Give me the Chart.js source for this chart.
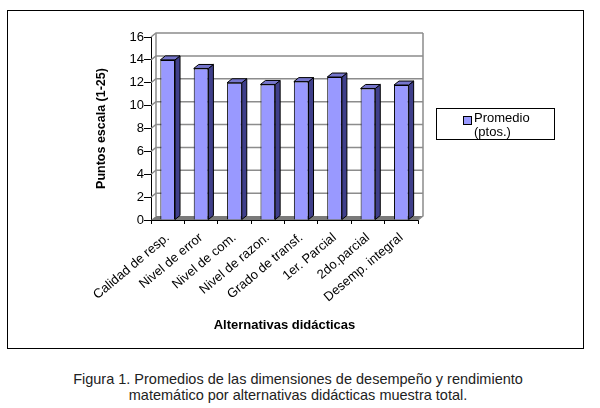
<!DOCTYPE html>
<html>
<head>
<meta charset="utf-8">
<script src="https://cdn.jsdelivr.net/npm/chart.js@4"></script>
<style>
  body { margin: 0; background: #fff; font-family: "Liberation Sans", Arial, sans-serif; }
  #frame { position: absolute; left: 7px; top: 10px; width: 575px; height: 337px; border: 1px solid #000; }
  #wrap { position: absolute; left: 0; top: 0; width: 575px; height: 337px; }
  #legend { position: absolute; left: 428px; top: 97px; width: 117px; height: 30px; border: 1px solid #000;
            font-size: 13px; line-height: 14px; color: #000; }
  #legend .sw { position: absolute; left: 26px; top: 7px; width: 7px; height: 7px; background: #9999ff; border: 1px solid #000; }
  #legend .t1 { position: absolute; left: 37px; top: 2px; }
  #legend .t2 { position: absolute; left: 37px; top: 16px; }
  #caption { position: absolute; left: 0; top: 371px; width: 596px; text-align: center; font-size: 14.5px; line-height: 16px; color: #222; }
</style>
</head>
<body>
<div id="frame">
  <div id="wrap"><canvas id="chart"></canvas></div>
  <div id="legend"><div class="sw"></div><div class="t1">Promedio</div><div class="t2">(ptos.)</div></div>
</div>
<div id="caption">Figura 1. Promedios de las dimensiones de desempeño y rendimiento<br>matemático por alternativas didácticas muestra total.</div>
<script>
/////////////////////////////////// DATA ///////////////////////////////////
const categories = ['Calidad de resp.', 'Nivel de error', 'Nivel de com.', 'Nivel de razon.',
                    'Grado de transf.', '1er. Parcial', '2do.parcial', 'Desemp. integral'];
const promedio = [14.0, 13.25, 12.0, 11.85, 12.1, 12.5, 11.5, 11.8];
const yTicks = [0, 2, 4, 6, 8, 10, 12, 14, 16];

const DX = 5, DY = 4; // depth of the 3d look

/////////////////////////////////// 3D PLUGIN ///////////////////////////////////
const wall3d = {
    id: 'wall3d',
    beforeDatasetsDraw(chart) {
        const ctx = chart.ctx, a = chart.chartArea, y = chart.scales.y;
        ctx.save();
        // floor
        ctx.fillStyle = '#7a7a7a';
        ctx.strokeStyle = '#000';
        ctx.lineWidth = 1;
        ctx.beginPath();
        ctx.moveTo(a.left, a.bottom);
        ctx.lineTo(a.left + DX, a.bottom - DY);
        ctx.lineTo(a.right + DX, a.bottom - DY);
        ctx.lineTo(a.right, a.bottom);
        ctx.closePath();
        ctx.fill();
        // back wall gridlines
        ctx.strokeStyle = '#8c8c8c';
        ctx.lineWidth = 1.5;
        yTicks.forEach(v => {
            if (v === 0) return;
            const py = y.getPixelForValue(v);
            ctx.beginPath();
            ctx.moveTo(a.left, py);
            ctx.lineTo(a.left + DX, py - DY);
            ctx.lineTo(a.right + DX, py - DY);
            ctx.stroke();
        });
        ctx.beginPath();
        ctx.moveTo(a.left + DX, a.top - DY);
        ctx.lineTo(a.left + DX, a.bottom - DY);
        ctx.moveTo(a.right + DX, a.top - DY);
        ctx.lineTo(a.right + DX, a.bottom - DY);
        ctx.lineTo(a.right, a.bottom);
        ctx.stroke();
        ctx.restore();
    },
    afterDatasetsDraw(chart) {
        const ctx = chart.ctx;
        ctx.save();
        ctx.strokeStyle = '#000';
        ctx.lineWidth = 1;
        chart.getDatasetMeta(0).data.forEach(bar => {
            const l = bar.x - bar.width / 2, r = bar.x + bar.width / 2;
            // side
            ctx.fillStyle = '#3f3f8a';
            ctx.beginPath();
            ctx.moveTo(r, bar.y);
            ctx.lineTo(r + DX, bar.y - DY);
            ctx.lineTo(r + DX, bar.base - DY);
            ctx.lineTo(r, bar.base);
            ctx.closePath();
            ctx.fill(); ctx.stroke();
            // top
            ctx.fillStyle = '#7676cc';
            ctx.beginPath();
            ctx.moveTo(l, bar.y);
            ctx.lineTo(l + DX, bar.y - DY);
            ctx.lineTo(r + DX, bar.y - DY);
            ctx.lineTo(r, bar.y);
            ctx.closePath();
            ctx.fill(); ctx.stroke();
        });
        ctx.restore();
    }
};

/////////////////////////////////// CHART ///////////////////////////////////
const family = '"Liberation Sans", Arial, sans-serif';

const chart = new Chart(document.getElementById('chart'), {
    type: 'bar',
    data: {
        labels: categories,
        datasets: [{
            label: 'Promedio (ptos.)',
            data: promedio,
            backgroundColor: '#9999ff',
            borderColor: '#000',
            borderWidth: 1,
            barPercentage: 0.44,
            categoryPercentage: 1
        }]
    },
    options: {
        responsive: true,
        maintainAspectRatio: false,
        animation: false,
        layout: { padding: { left: 86, top: 26, right: 165, bottom: 0 } },
        plugins: { legend: { display: false }, tooltip: { enabled: false } },
        scales: {
            x: {
                grid: { offset: true, drawOnChartArea: false, drawTicks: true, tickLength: 4, color: '#000' },
                border: { display: true, color: '#000' },
                ticks: { color: '#000', font: { family: family, size: 13 }, minRotation: 40, maxRotation: 40, padding: 6 },
                title: { display: true, text: 'Alternativas didácticas', color: '#000',
                         font: { family: family, size: 13, weight: 'bold' }, padding: { top: 4, bottom: 15 } },
                afterFit(s) { s.height = 128; }
            },
            y: {
                min: 0, max: 16,
                afterBuildTicks(s) { s.ticks = yTicks.map(v => ({ value: v })); },
                grid: { drawOnChartArea: false, drawTicks: true, tickLength: 7, color: '#000' },
                border: { display: true, color: '#000' },
                ticks: { color: '#000', font: { family: family, size: 13 }, padding: 0 },
                title: { display: true, text: 'Puntos escala (1-25)', color: '#000',
                         font: { family: family, size: 12.5, weight: 'bold' }, padding: { top: 0, bottom: 0 } },
                afterFit(s) { s.width = 57; }
            }
        }
    },
    plugins: [wall3d]
});
</script>
</body>
</html>
